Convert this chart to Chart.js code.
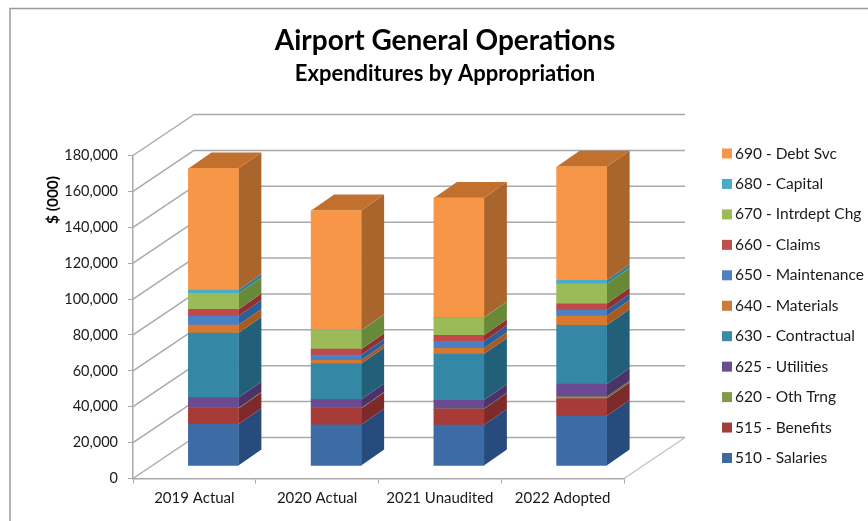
<!DOCTYPE html>
<html lang="en">
<head>
  <meta charset="UTF-8" />
  <title>Airport General Operations</title>
  <script src="https://cdn.jsdelivr.net/npm/chart.js"></script>
  <style>
    body { margin: 0; background: #fff; }
    canvas { display: block; }
  </style>
</head>
<body>
  <canvas id="grafico" width="868" height="521"></canvas>

  <script>
    const categories = ['2019 Actual', '2020 Actual', '2021 Unaudited', '2022 Adopted'];

    const salaries    = [23200, 23000, 22800, 27800];
    const benefits    = [8900, 9100, 8900, 9800];
    const othTrng     = [200, 200, 200, 1000];
    const utilities   = [5800, 4700, 4700, 7000];
    const contractual = [36000, 20000, 25800, 32800];
    const materials   = [4450, 1900, 3200, 5200];
    const maintenance = [5000, 2900, 3900, 3300];
    const claims      = [3700, 3300, 3300, 3500];
    const intrdept    = [8900, 10400, 9800, 11100];
    const capital     = [1900, 200, 200, 2000];
    const debtSvc     = [67800, 66700, 66600, 63200];

    const seriesNames = ['510 - Salaries', '515 - Benefits', '620 - Oth Trng', '625 - Utilities', '630 - Contractual',
      '640 - Materials', '650 - Maintenance', '660 - Claims', '670 - Intrdept Chg', '680 - Capital', '690 - Debt Svc'];
    const seriesValues = [salaries, benefits, othTrng, utilities, contractual, materials, maintenance, claims, intrdept, capital, debtSvc];
    const frontColors = ['#3c6ba6', '#a63b38', '#84994a', '#6a4a90', '#3488a6', '#d8782e', '#4a80c4', '#c0484a', '#9bbb59', '#4bacc6', '#f79646'];
    const sideColors  = ['#264b7c', '#7e2a2b', '#5f7333', '#4b3368', '#225f78', '#a85a20', '#2f5d96', '#8f2f32', '#688a38', '#347f98', '#a9652c'];
    const legendColors = ['#3f689c', '#a03e3b', '#84994a', '#6a4d8c', '#3a8ca6', '#cc7a37', '#4f81bd', '#c0504d', '#9bbb59', '#4bacc6', '#f79646'];

    const FONT = 'Lato, sans-serif';
    const TEXT = '#1a1a1a';
    const GRID = '#a9a9a9';

    // 3D look: wall depth, bar offset inside the floor, bar depth
    const wallDx = 61, wallDy = -41;
    const barDx = 19, barDy = -12.5;
    const sideDx = 23, sideDy = -16;

    function line(ctx, x1, y1, x2, y2) {
      ctx.beginPath();
      ctx.moveTo(x1, y1);
      ctx.lineTo(x2, y2);
      ctx.stroke();
    }

    function face(ctx, pts, color) {
      ctx.fillStyle = color;
      ctx.beginPath();
      pts.forEach((p, i) => i ? ctx.lineTo(p[0], p[1]) : ctx.moveTo(p[0], p[1]));
      ctx.closePath();
      ctx.fill();
    }

    const walls3d = {
      id: 'walls3d',
      beforeDraw(chart) {
        const ctx = chart.ctx;
        ctx.save();
        ctx.strokeStyle = '#9a9a9a';
        ctx.lineWidth = 1.5;
        ctx.beginPath();
        ctx.moveTo(10, 521);
        ctx.lineTo(10, 8.5);
        ctx.lineTo(868, 8.5);
        ctx.stroke();
        ctx.restore();
      },
      beforeDatasetsDraw(chart) {
        const ctx = chart.ctx;
        const { left, right } = chart.chartArea;
        const y = chart.scales.y;
        ctx.save();
        ctx.strokeStyle = GRID;
        ctx.lineWidth = 1.5;
        y.ticks.forEach(t => {
          const py = y.getPixelForValue(t.value);
          line(ctx, left, py, left + wallDx, py + wallDy);
          line(ctx, left + wallDx, py + wallDy, right + wallDx, py + wallDy);
        });
        const y0 = y.getPixelForValue(0);
        ctx.strokeStyle = '#c4c4c4';
        line(ctx, right, y0, right + wallDx, y0 + wallDy);

        // side faces of every stack segment, top face on the last one
        chart.data.datasets.forEach((ds, d) => {
          chart.getDatasetMeta(d).data.forEach(bar => {
            const x2 = bar.x + bar.width / 2 + barDx;
            const top = bar.y + barDy;
            const base = bar.base + barDy;
            face(ctx, [[x2, top], [x2 + sideDx, top + sideDy], [x2 + sideDx, base + sideDy], [x2, base]], sideColors[d]);
          });
        });
        const last = chart.data.datasets.length - 1;
        chart.getDatasetMeta(last).data.forEach(bar => {
          const x1 = bar.x - bar.width / 2 + barDx;
          const x2 = bar.x + bar.width / 2 + barDx;
          const top = bar.y + barDy;
          face(ctx, [[x1, top], [x1 + sideDx, top + sideDy], [x2 + sideDx, top + sideDy], [x2, top]], '#c2702e');
        });
        ctx.restore();
      },
      // front faces are the library's own bars, moved onto the bar plane
      beforeDatasetDraw(chart) {
        chart.ctx.save();
        chart.ctx.translate(barDx, barDy);
      },
      afterDatasetDraw(chart) {
        chart.ctx.restore();
      },
      afterDraw(chart) {
        const ctx = chart.ctx;
        ctx.save();
        // y axis title sits beside the upper ticks
        ctx.fillStyle = '#000';
        ctx.font = 'bold 15.5px ' + FONT;
        ctx.textAlign = 'center';
        ctx.textBaseline = 'middle';
        ctx.translate(53, 200);
        ctx.rotate(-Math.PI / 2);
        ctx.fillText('$ (000)', 0, 0);
        ctx.restore();

        // legend, top to bottom
        ctx.save();
        ctx.font = '15.5px ' + FONT;
        ctx.textBaseline = 'middle';
        chart.data.datasets.slice().reverse().forEach((ds, i) => {
          const ly = 153.5 + i * 30.45;
          ctx.fillStyle = legendColors[legendColors.length - 1 - i];
          ctx.fillRect(722, ly - 5, 10, 10);
          ctx.fillStyle = TEXT;
          ctx.fillText(ds.label, 735, ly);
        });
        ctx.restore();
      }
    };

    new Chart(document.getElementById('grafico'), {
      type: 'bar',
      data: {
        labels: categories,
        datasets: seriesNames.map((name, i) => ({
          label: name,
          data: seriesValues[i],
          backgroundColor: frontColors[i],
          barThickness: 50,
          clip: false
        }))
      },
      options: {
        responsive: false,
        animation: false,
        layout: { padding: { left: 22, right: 0, top: 0, bottom: 0 } },
        plugins: {
          legend: { display: false },
          tooltip: { enabled: false },
          title: {
            display: true,
            text: 'Airport General Operations',
            color: '#000',
            font: { family: FONT, size: 28, weight: 'bold' },
            padding: { top: 24, bottom: 0 }
          },
          subtitle: {
            display: true,
            text: 'Expenditures by Appropriation',
            color: '#000',
            font: { family: FONT, size: 22, weight: 'bold' },
            padding: { top: 3, bottom: 68.5 }
          }
        },
        scales: {
          x: {
            stacked: true,
            grid: { drawOnChartArea: false, offset: true, tickLength: 5, color: GRID },
            border: { color: GRID, width: 1.5 },
            ticks: { color: TEXT, font: { family: FONT, size: 15 }, padding: 6, maxRotation: 0 },
            afterFit(s) { s.height = 42.5; }
          },
          y: {
            stacked: true,
            min: 0,
            max: 180000,
            grid: { drawOnChartArea: false, tickLength: 5, color: GRID },
            border: { color: GRID, width: 1.5 },
            ticks: { stepSize: 20000, color: TEXT, font: { family: FONT, size: 14.5 }, padding: 10 },
            afterFit(s) { s.width = 111; }
          },
          // keeps the right side free for the legend
          legendSpace: {
            type: 'linear',
            position: 'right',
            grid: { display: false },
            border: { display: false },
            ticks: { display: false },
            afterFit(s) { s.width = 244; }
          }
        }
      },
      plugins: [walls3d]
    });
  </script>
</body>
</html>
